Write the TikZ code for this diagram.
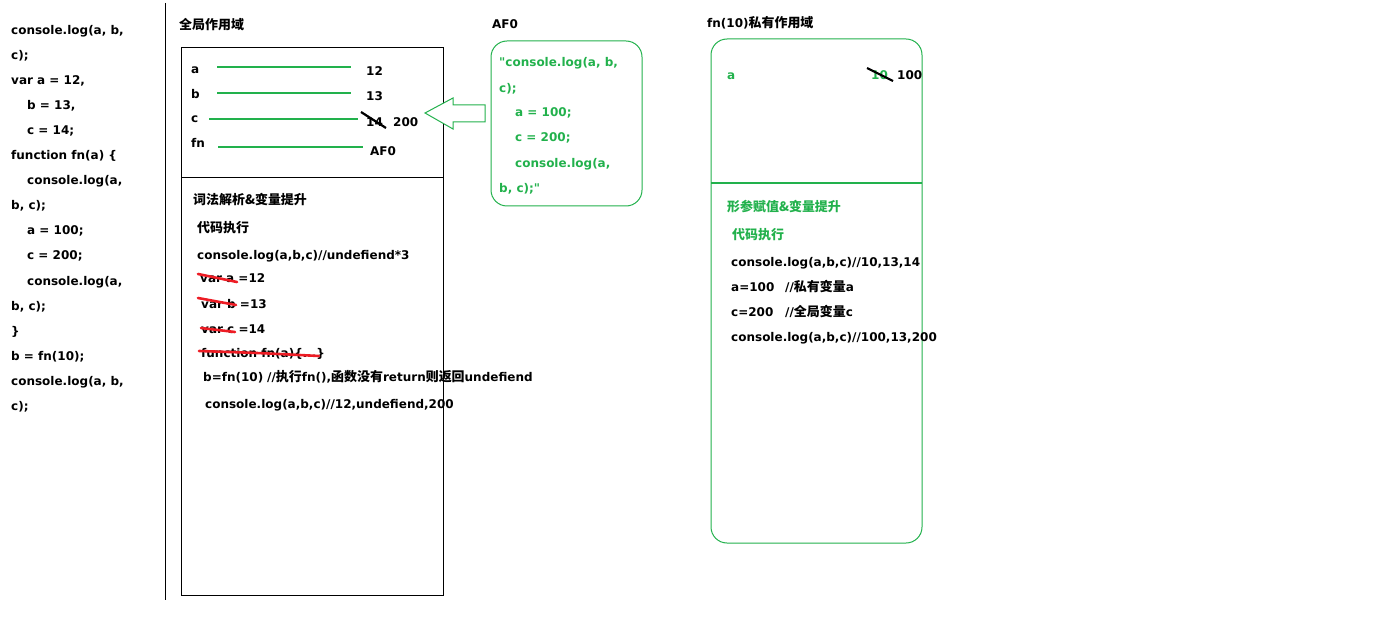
\documentclass[tikz,border=0pt]{standalone}
\usepackage{fontspec}
\setmainfont{DejaVu Sans}[Ligatures=TeXOff]
\newfontfamily\zhfont{Noto Sans CJK SC}[Scale=1.08]
\definecolor{pg}{RGB}{34,177,76}
\definecolor{pr}{RGB}{237,28,36}
\tikzset{
  t/.style={anchor=base west, inner sep=0pt, font=\fontsize{12}{14}\selectfont\bfseries},
  tg/.style={t, text=pg},
  frame/.style={draw=black, line width=1pt},
  gframe/.style={draw=pg, line width=1pt, rounded corners=16pt},
  link/.style={draw=pg, line width=1.1pt},
  redx/.style={draw=pr, line width=2.6pt, line cap=round},
  blkx/.style={draw=black, line width=2.2pt},
}
\begin{document}
\begin{tikzpicture}[x=1pt,y=-1pt]
\useasboundingbox (0,0) rectangle (1375,644);
% left code
\node[t] (l1) at (11,35) {console.log(a, b,};
\node[t] (l2) at (11,60) {c);};
\node[t] (l3) at (11,85) {var a = 12,};
\node[t] (l4) at (27,110) {b = 13,};
\node[t] (l5) at (27,135) {c = 14;};
\node[t] (l6) at (11,160) {function fn(a) \{};
\node[t] (l7) at (27,185) {console.log(a,};
\node[t] (l8) at (11,210) {b, c);};
\node[t] (l9) at (27,235) {a = 100;};
\node[t] (l10) at (27,260) {c = 200;};
\node[t] (l11) at (27,285) {console.log(a,};
\node[t] (l12) at (11,310) {b, c);};
\node[t] (l13) at (11,335) {\}};
\node[t] (l14) at (11,360) {b = fn(10);};
\node[t] (l15) at (11,385) {console.log(a, b,};
\node[t] (l16) at (11,410) {c);};
\draw[line width=1pt] (165,3) -- (165,600);

% global scope
\node[t] (gtitle) at (179,30) {\zhfont 全局作用域};
\draw[frame] (181,48) rectangle (443,595);
\draw[frame] (181,178) -- (443,178);
\node[t] (va) at (191,74) {a};
\node[t] (vb) at (191,99) {b};
\node[t] (vc) at (191,123) {c};
\node[t] (vfn) at (191,148) {fn};
\draw[link] (217,67) -- (351,67);
\draw[link] (217,93) -- (351,93);
\draw[link] (209,119) -- (358,119);
\draw[link] (218,147) -- (363,147);
\node[t] (n12) at (366,76) {12};
\node[t] (n13) at (366,101) {13};
\node[t] (n14) at (366,127) {14};
\node[t] (n200) at (393,127) {200};
\node[t] (naf) at (370,156) {AF0};
\draw[blkx] (361,112) -- (386,128);

\node[t] (gs1) at (193,205) {\zhfont 词法解析\&变量提升};
\node[t] (gs2) at (197,233) {\zhfont 代码执行};
\node[t] (gs3) at (197,260) {console.log(a,b,c)//undefiend*3};
\node[t] (gs4) at (200,283) {var a =12};
\node[t] (gs5) at (201,308) {var b =13};
\node[t] (gs6) at (201,333) {var c =14};
\node[t] (gs7) at (201,357) {function fn(a)\{...\}};
\node[t] (gs8) at (203,381) {b=fn(10)};
\node[t] (gs8b) at (267,381) {//{\zhfont 执行}fn(),{\zhfont 函数没有}return{\zhfont 则返回}undefiend};
\node[t] (gs9) at (205,408) {console.log(a,b,c)//12,undefiend,200};
\draw[redx] (198,274) -- (237,282);
\draw[redx] (198,298) -- (236,305);
\draw[redx] (201,328) -- (235,332);
\draw[redx] (199,351) .. controls (260,353) .. (319,356);

% hollow arrow
\draw[draw=pg, line width=1pt, fill=white] (425,113) -- (453,98) -- (453,105) -- (485,105) -- (485,122) -- (453,122) -- (453,129) -- cycle;

% AF0 box
\node[t] (aftitle) at (492,29) {AF0};
\draw[gframe] (491,41) rectangle (642,206);
\node[tg] (f1) at (499,67) {"console.log(a, b,};
\node[tg] (f2) at (499,93) {c);};
\node[tg] (f3) at (515,117) {a = 100;};
\node[tg] (f4) at (515,142) {c = 200;};
\node[tg] (f5) at (515,168) {console.log(a,};
\node[tg] (f6) at (499,193) {b, c);"};

% fn(10) private scope
\node[t] (ptitle) at (707,28) {fn(10){\zhfont 私有作用域}};
\draw[gframe] (711,39) rectangle (922,543);
\draw[link] (711,183) -- (922,183);
\node[tg] (pa) at (727,80) {a};
\node[tg] (p10) at (871,80) {10};
\node[t] (p100) at (897,80) {100};
\draw[blkx] (867,68) -- (893,81);
\node[tg] (ps1) at (727,212) {\zhfont 形参赋值\&变量提升};
\node[tg] (ps2) at (732,240) {\zhfont 代码执行};
\node[t] (ps3) at (731,266) {console.log(a,b,c)//10,13,14};
\node[t] (ps4) at (731,291) {a=100};
\node[t] (ps4b) at (785,291) {//{\zhfont 私有变量}a};
\node[t] (ps5) at (731,316) {c=200};
\node[t] (ps5b) at (785,316) {//{\zhfont 全局变量}c};
\node[t] (ps6) at (731,341) {console.log(a,b,c)//100,13,200};
\end{tikzpicture}
\end{document}
